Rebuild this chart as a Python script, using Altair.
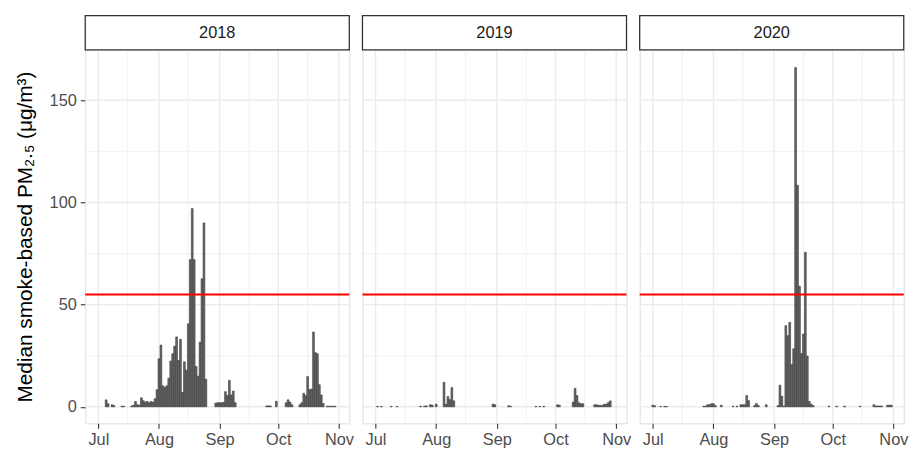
import altair as alt
import pandas as pd

YEARS = ["2018", "2019", "2020"]

DATES_2018 = ["07-05", "07-06", "07-08", "07-09", "07-13", "07-14", "07-18", "07-19", "07-20", "07-21",
              "07-22", "07-23", "07-24", "07-25", "07-26", "07-27", "07-28", "07-29", "07-30", "07-31",
              "08-01", "08-02", "08-03", "08-04", "08-05", "08-06", "08-07", "08-08", "08-09", "08-10",
              "08-11", "08-12", "08-13", "08-14", "08-15", "08-16", "08-17", "08-18", "08-19", "08-20",
              "08-21", "08-22", "08-23", "08-24", "08-25", "08-30", "08-31", "09-01", "09-02", "09-03",
              "09-04", "09-05", "09-06", "09-07", "09-08", "09-09", "09-25", "09-26", "09-27", "09-30",
              "10-05", "10-06", "10-07", "10-08", "10-12", "10-13", "10-14", "10-15", "10-16", "10-17",
              "10-18", "10-19", "10-20", "10-21", "10-22", "10-23", "10-24", "10-26", "10-27", "10-28",
              "10-29", "10-30"]
PM_2018 = [3.4, 1.5, 1.0, 0.6, 0.3, 0.3, 0.4, 0.8, 2.6, 1.0,
           0.8, 4.4, 3.0, 2.3, 2.6, 2.0, 2.6, 2.3, 3.9, 8.4,
           23.5, 30.2, 10.3, 9.5, 10.3, 14.0, 22.4, 26.0, 29.7, 34.2,
           22.7, 33.0, 7.0, 22.0, 17.9, 40.6, 72.0, 97.0, 72.0, 19.7,
           15.0, 31.6, 62.7, 90.0, 13.5, 1.8, 2.0, 2.0, 2.0, 2.2,
           7.4, 5.5, 12.9, 5.8, 7.7, 2.0, 0.4, 0.5, 0.4, 2.7,
           2.0, 3.4, 2.3, 1.0, 1.0, 2.0, 6.6, 5.5, 14.8, 8.4,
           8.7, 36.6, 26.5, 26.0, 10.8, 5.8, 1.6, 0.3, 0.3, 0.3,
           0.3, 0.3]

DATES_2019 = ["07-02", "07-04", "07-09", "07-12", "07-24", "07-26", "07-27", "07-29", "07-30", "08-01",
              "08-05", "08-06", "08-07", "08-08", "08-09", "08-10", "08-30", "08-31", "09-07", "09-08",
              "09-21", "09-23", "09-25", "10-02", "10-03", "10-10", "10-11", "10-12", "10-13", "10-14",
              "10-15", "10-21", "10-22", "10-23", "10-24", "10-25", "10-26", "10-27", "10-28", "10-29"]
PM_2019 = [0.2, 0.2, 0.2, 0.2, 0.3, 0.3, 0.5, 1.0, 0.8, 1.3,
           12.0, 1.3, 5.0, 3.5, 9.4, 2.9, 1.3, 1.0, 0.5, 0.3,
           0.2, 0.2, 0.3, 1.0, 0.8, 2.3, 9.0, 5.5, 2.0, 1.5,
           1.5, 1.0, 1.0, 0.7, 0.7, 0.7, 1.3, 1.3, 2.0, 2.9]

DATES_2020 = ["07-01", "07-02", "07-05", "07-07", "07-08", "07-27", "07-28", "07-29", "07-30", "07-31",
              "08-01", "08-02", "08-05", "08-11", "08-13", "08-15", "08-16", "08-17", "08-18", "08-19",
              "08-22", "08-23", "08-24", "08-28", "09-03", "09-04", "09-05", "09-06", "09-07", "09-08",
              "09-09", "09-10", "09-11", "09-12", "09-13", "09-14", "09-15", "09-16", "09-17", "09-18",
              "09-19", "09-20", "09-21", "09-29", "10-03", "10-07", "10-15", "10-22", "10-23", "10-24",
              "10-25", "10-26", "10-29", "10-30", "10-31"]
PM_2020 = [0.8, 0.5, 0.2, 0.2, 0.2, 0.3, 0.3, 1.0, 1.0, 1.5,
           1.5, 0.6, 0.8, 0.3, 0.3, 1.0, 1.0, 1.0, 5.5, 3.0,
           0.6, 1.6, 0.6, 1.0, 0.6, 10.6, 5.2, 0.3, 39.7, 34.8,
           41.3, 20.6, 28.4, 166.0, 108.4, 59.0, 26.0, 35.6, 75.6, 24.8,
           2.6, 1.3, 0.6, 0.3, 0.3, 0.4, 0.3, 1.0, 0.4, 0.4,
           0.4, 0.4, 0.8, 0.8, 0.8]

THRESHOLD = 55
MONTH_TICKS = [0, 31, 62, 92, 123]          # days since Jul 1
MONTH_LABELS = ["Jul", "Aug", "Sep", "Oct", "Nov"]
MINOR_X = [15, 46, 77, 107]
Y_TICKS = [0, 50, 100, 150]
MINOR_Y = [25, 75, 125]

SERIES = {"2018": (DATES_2018, PM_2018), "2019": (DATES_2019, PM_2019), "2020": (DATES_2020, PM_2020)}

W, H = 266.7, 377.3
FONT = "Liberation Sans"
xs = alt.Scale(domain=[-6.7, 128.3], nice=False, zero=False)
ys = alt.Scale(domain=[-8.1, 174.7], nice=False, zero=False)

label_expr = "[" + ",".join(f"'{m}'" for m in MONTH_LABELS) + "][indexof([" + \
    ",".join(str(v) for v in MONTH_TICKS) + "], datum.value)]"

xaxis = alt.Axis(values=MONTH_TICKS, labelExpr=label_expr, grid=False, domain=False,
                 tickSize=5, tickWidth=1.1, tickColor="#333333", labelColor="#4D4D4D",
                 labelFontSize=16.5, labelFont=FONT, labelPadding=3, labelFlush=False,
                 labelOverlap=False, title=None)


def yaxis_for(first):
    if not first:
        return None
    return alt.Axis(values=Y_TICKS, grid=False, domain=False, tickSize=5, tickWidth=1.1,
                    tickColor="#333333", labelColor="#4D4D4D", labelFontSize=16.5,
                    labelFont=FONT, labelPadding=4, labelFlush=False, labelOverlap=False,
                    title="Median smoke-based PM\u2082.\u2085 (\u03bcg/m\u00b3)",
                    titleFont=FONT, titleFontSize=21, titleFontWeight="normal",
                    titleColor="#000000", titlePadding=14)


def panel(year, first):
    dates, vals = SERIES[year]
    start = pd.Timestamp(f"{year}-07-01")
    df = pd.DataFrame({
        "day": [(pd.Timestamp(f"{year}-{d}") - start).days for d in dates],
        "pm": vals,
    })
    ya = yaxis_for(first)

    gx_major = alt.Chart(pd.DataFrame({"g": MONTH_TICKS})).mark_rule(
        color="#EBEBEB", strokeWidth=1.4).encode(x=alt.X("g:Q", scale=xs, axis=xaxis))
    gx_minor = alt.Chart(pd.DataFrame({"g": MINOR_X})).mark_rule(
        color="#EBEBEB", strokeWidth=0.7).encode(x=alt.X("g:Q", scale=xs, axis=xaxis))
    gy_major = alt.Chart(pd.DataFrame({"g": Y_TICKS})).mark_rule(
        color="#EBEBEB", strokeWidth=1.4).encode(y=alt.Y("g:Q", scale=ys, axis=ya))
    gy_minor = alt.Chart(pd.DataFrame({"g": MINOR_Y})).mark_rule(
        color="#EBEBEB", strokeWidth=0.7).encode(y=alt.Y("g:Q", scale=ys, axis=ya))

    bars = alt.Chart(df).transform_calculate(
        x0="datum.day - 0.45", x1="datum.day + 0.45", zero="0"
    ).mark_bar(fill="#666666", stroke="#383838", strokeWidth=0.6).encode(
        x=alt.X("x0:Q", scale=xs, axis=xaxis),
        x2="x1:Q",
        y=alt.Y("pm:Q", scale=ys, axis=ya),
        y2="zero:Q",
    )

    thr = alt.Chart(pd.DataFrame({"t": [THRESHOLD]})).mark_rule(
        color="#FF0000", strokeWidth=2).encode(y=alt.Y("t:Q", scale=ys, axis=ya))

    strip = alt.Chart(pd.DataFrame({"year": [year]})).mark_rect(
        fill="white", stroke="#333333", strokeWidth=1.3).encode(
        x=alt.value(0), x2=alt.value(W), y=alt.value(-34.4), y2=alt.value(0))
    strip_txt = alt.Chart(pd.DataFrame({"year": [year]})).mark_text(
        fontSize=16.5, font=FONT, color="#1A1A1A", baseline="middle", align="center").encode(
        x=alt.value(W / 2), y=alt.value(-17.2), text="year:N")

    return alt.layer(gx_minor, gx_major, gy_minor, gy_major, bars, thr, strip, strip_txt).properties(
        width=W, height=H)


chart = alt.hconcat(
    *[panel(y, i == 0) for i, y in enumerate(YEARS)], spacing=13, bounds="flush"
).properties(
    padding={"left": 5, "top": 4, "right": 0, "bottom": 0}
).configure_view(
    stroke="#333333", strokeWidth=1.3
).configure(background="white")

chart.save("out.html", embed_options={"renderer": "svg", "actions": False})
